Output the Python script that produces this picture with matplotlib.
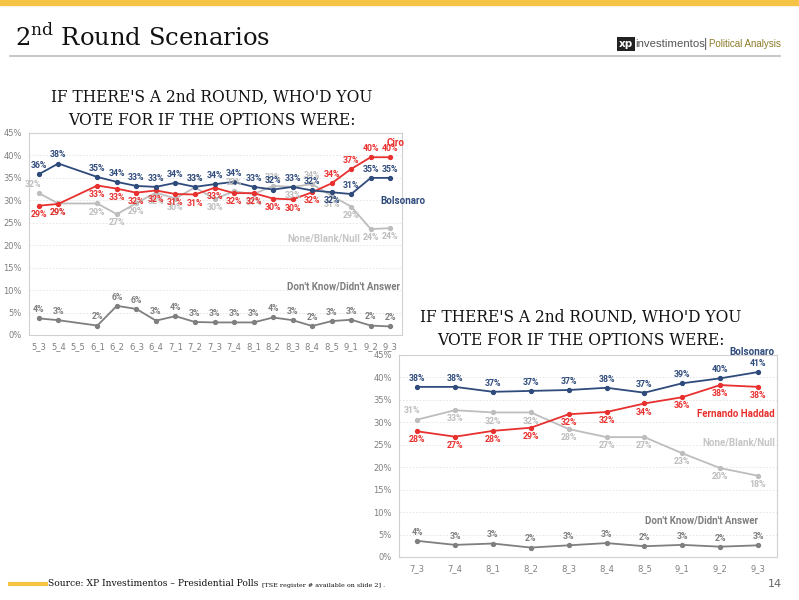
import matplotlib.pyplot as plt
import numpy as np

nan = np.nan

# left chart: Ciro vs Bolsonaro
cats_l = ['5_3', '5_4', '5_5', '6_1', '6_2', '6_3', '6_4', '7_1', '7_2', '7_3',
          '7_4', '8_1', '8_2', '8_3', '8_4', '8_5', '9_1', '9_2', '9_3']
bolso_l = [35.8, 38.2, nan, 35.2, 34.1, 33.2, 33.0, 33.9, 33.0, 33.6,
           34.1, 33.0, 32.4, 33.0, 32.2, 31.8, 31.4, 35.0, 35.0]
ciro_l = [28.8, 29.2, nan, 33.3, 32.6, 31.7, 32.2, 31.4, 31.3, 32.8,
          31.6, 31.6, 30.4, 30.2, 31.8, 33.8, 37.0, 39.6, 39.6]
null_l = [31.6, 29.3, nan, 29.3, 26.9, 29.4, 31.7, 30.4, 32.9, 30.3,
          32.0, 31.4, 33.2, 33.0, 33.6, 31.0, 28.6, 23.6, 23.8]
dk_l = [3.7, 3.3, nan, 2.1, 6.5, 5.8, 3.2, 4.2, 2.9, 2.8,
        2.8, 2.8, 3.9, 3.3, 2.0, 3.1, 3.4, 2.1, 1.9]

# right chart: Haddad vs Bolsonaro
cats_r = ['7_3', '7_4', '8_1', '8_2', '8_3', '8_4', '8_5', '9_1', '9_2', '9_3']
bolso_r = [37.9, 37.9, 36.8, 37.0, 37.2, 37.7, 36.6, 38.7, 39.8, 41.2]
haddad_r = [28.0, 26.8, 28.1, 28.8, 31.8, 32.3, 34.2, 35.6, 38.3, 37.9]
null_r = [30.6, 32.7, 32.2, 32.2, 28.5, 26.7, 26.7, 23.1, 19.8, 18.1]
dk_r = [3.6, 2.7, 3.0, 2.1, 2.6, 3.1, 2.4, 2.7, 2.3, 2.6]

BLUE = '#2F4B7C'
RED = '#E8302E'
LGRAY = '#BDBDBD'
DGRAY = '#7F7F7F'
YELLOW = '#F6C445'
LBL = 'Roboto'

W, H = 799, 600
fig = plt.figure(figsize=(W / 100, H / 100), dpi=100)


def px(x, y):
    return x / W, 1 - y / H


def draw_series(ax, vals, color, lblcolor, sides):
    v = np.array(vals, dtype=float)
    x = np.arange(len(v))
    ok = ~np.isnan(v)
    ax.plot(x[ok], v[ok], color=color, lw=1.3, marker='o', ms=2.8, zorder=3)
    for xi, vi, s in zip(x, v, sides):
        if np.isnan(vi):
            continue
        dx = -4 if s == 'al' else 0
        dy = 3 if s in ('a', 'al') else -3
        ax.annotate(f'{vi:.0f}%', (xi, vi), xytext=(dx, dy), textcoords='offset points',
                    ha='center', va='bottom' if dy > 0 else 'top', family=LBL,
                    fontsize=6.3, fontweight='bold', color=lblcolor, zorder=4)


def style_axes(ax, cats):
    ax.set_ylim(0, 45)
    ax.set_yticks(np.arange(0, 46, 5))
    ax.set_yticklabels([f'{t}%' for t in range(0, 46, 5)])
    ax.set_xticks(np.arange(len(cats)))
    ax.set_xticklabels(cats)
    ax.tick_params(length=0, labelsize=6, labelcolor='#7F7F7F', pad=5)
    ax.grid(axis='y', color='#E3E3E3', lw=0.6, ls=(0, (2, 2)))
    ax.set_axisbelow(True)
    for sp in ax.spines.values():
        sp.set_color('#D0D0D0')
        sp.set_linewidth(0.8)


# left axes
axl = fig.add_axes([29 / W, 1 - 335 / H, 373 / W, 202 / H])
style_axes(axl, cats_l)
axl.set_xlim(-0.5, 18.6)
n = len(cats_l)
draw_series(axl, dk_l, DGRAY, DGRAY, ['a'] * n)
draw_series(axl, null_l, LGRAY, LGRAY,
            ['al', 'b', 'b', 'b', 'b', 'b', 'b', 'b', 'a', 'b',
             'a', 'b', 'a', 'b', 'a', 'b', 'b', 'b', 'b'])
draw_series(axl, ciro_l, RED, RED,
            ['b'] * 15 + ['a', 'a', 'a', 'a'])
draw_series(axl, bolso_l, BLUE, BLUE,
            ['a'] * 15 + ['b', 'a', 'a', 'a'])

# right axes
axr = fig.add_axes([399 / W, 1 - 557 / H, 378 / W, 202 / H])
style_axes(axr, cats_r)
axr.set_xlim(-0.48, 9.5)
m = len(cats_r)
draw_series(axr, dk_r, DGRAY, DGRAY, ['a'] * m)
draw_series(axr, null_r, LGRAY, LGRAY, ['al'] + ['b'] * (m - 1))
draw_series(axr, haddad_r, RED, RED, ['b'] * m)
draw_series(axr, bolso_r, BLUE, BLUE, ['a'] * m)

# series names
def name(x, y, s, c, ha):
    fig.text(*px(x, y), s, color=c, family=LBL, fontsize=7, fontweight='bold', ha=ha, va='center')


name(396, 143, 'Ciro', RED, 'center')
name(380, 201, 'Bolsonaro', BLUE, 'left')
name(287, 239, 'None/Blank/Null', '#C6C6C6', 'left')
name(287, 286, "Don't Know/Didn't Answer", DGRAY, 'left')
name(775, 352, 'Bolsonaro', BLUE, 'right')
name(775, 414, 'Fernando Haddad', RED, 'right')
name(775, 442, 'None/Blank/Null', '#C6C6C6', 'right')
name(758, 521, "Don't Know/Didn't Answer", DGRAY, 'right')

# chart titles
title = "IF THERE'S A 2nd ROUND, WHO'D YOU\nVOTE FOR IF THE OPTIONS WERE:"
fig.text(*px(212, 109), title, family='DejaVu Serif', fontsize=11.2, ha='center', va='center',
         linespacing=1.45, color='#111111')
fig.text(*px(581, 329), title, family='DejaVu Serif', fontsize=11.2, ha='center', va='center',
         linespacing=1.45, color='#111111')

# header
fig.patches.append(plt.Rectangle((0, 1 - 5 / H), 1, 5 / H, transform=fig.transFigure,
                                 color=YELLOW, zorder=0))
fig.text(*px(15, 38), r'2$^{\mathregular{nd}}$ Round Scenarios', family='DejaVu Serif',
         fontsize=17.5, ha='left', va='center', color='#111111')
fig.add_artist(plt.Line2D([10 / W, 780 / W], [1 - 56 / H, 1 - 56 / H], color='#BDBDBD', lw=1.2))
fig.text(*px(619, 44), 'xp', color='white', fontsize=7.5, fontweight='bold', ha='left', va='center',
         bbox=dict(boxstyle='square,pad=0.15', fc='#222222', ec='none'))
fig.text(*px(635, 44), 'investimentos', color='#555555', fontsize=8.2, ha='left', va='center',
         family='Liberation Sans')
fig.text(*px(704, 44), '|', color='#555555', fontsize=9, ha='left', va='center', family='Liberation Sans')
fig.text(*px(709, 44), 'Political Analysis', color='#8C7A28', fontsize=7, ha='left', va='center',
         family='Liberation Sans')

# footer
fig.add_artist(plt.Line2D([10 / W, 46 / W], [1 - 584 / H, 1 - 584 / H], color=YELLOW, lw=3))
fig.text(*px(48, 584), 'Source: XP Investimentos \u2013 Presidential Polls', family='DejaVu Serif',
         fontsize=6.6, ha='left', va='center', color='#111111')
fig.text(*px(262, 585), '[TSE register # available on slide 2] .', family='DejaVu Serif',
         fontsize=4.6, ha='left', va='center', color='#111111')
fig.text(*px(782, 584), '14', fontsize=8, ha='right', va='center', color='#666666')

fig.savefig('out.png', dpi=100)
